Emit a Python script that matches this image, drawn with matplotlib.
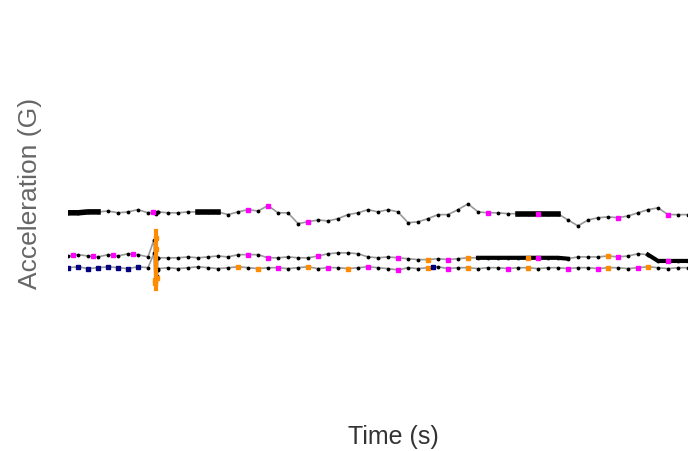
import matplotlib
matplotlib.use("Agg")
from matplotlib import pyplot as plt

# tempo in secondi, accelerazioni in G
t = [0, 1, 2, 3, 4, 5, 6, 7, 8, 8.6, 8.7, 8.8, 8.9, 9.0, 9, 10, 11, 12, 13, 14, 15, 16, 17, 18,
     19, 20, 21, 22, 23, 24, 25, 26, 27, 28, 29, 30, 31, 32, 33, 34, 35, 36, 37, 38,
     39, 40, 41, 42, 43, 44, 45, 46, 47, 48, 49, 50, 51, 52, 53, 54, 55, 56, 57, 58, 59, 60, 61, 62]

top = [1.00, 1.00, 1.02, 1.02, 1.04, 1.00, 1.02, 1.07, 1.00, 1.02, 1.00, 0.98, 1.02, 1.02, 1.02, 1.00, 1.00, 1.02, 1.02, 1.02, 1.02, 0.96, 1.02,
       1.07, 1.04, 1.16, 1.00, 1.00, 0.76, 0.80, 0.84, 0.82, 0.87, 0.96, 1.00, 1.07, 1.02, 1.07, 1.02,
       0.78, 0.80, 0.87, 0.96, 0.96, 1.07, 1.20, 1.02, 1.00, 1.00, 0.98, 0.98, 0.98, 0.98, 0.98, 0.98,
       0.84, 0.71, 0.84, 0.89, 0.91, 0.89, 0.93, 1.00, 1.07, 1.11, 0.96, 0.96, 0.96]

mid = [0.04, 0.07, 0.04, 0.02, 0.07, 0.04, 0.09, 0.07, 0.02, 0.40, -0.50, 0.45, -0.40, 0.00, 0.00, 0.00, 0.00, 0.02, 0.00, 0.02, 0.04, 0.02,
       0.07, 0.07, 0.07, 0.00, 0.00, 0.02, 0.00, 0.00, 0.04, 0.09, 0.11, 0.11, 0.09, 0.02, 0.00, 0.02,
       0.00, -0.02, -0.04, -0.04, -0.02, -0.04, -0.02, 0.00, 0.00, 0.00, 0.00, 0.00, 0.00, 0.00, 0.00,
       0.00, 0.00, -0.02, 0.02, 0.02, 0.02, 0.04, 0.02, 0.04, 0.09, 0.07, -0.07, -0.07, -0.07, -0.07]

bot = [-0.22, -0.20, -0.24, -0.22, -0.20, -0.22, -0.24, -0.20, -0.22, 0.10, -0.55, 0.20, -0.45, -0.27, -0.24, -0.22, -0.24, -0.22, -0.20,
       -0.22, -0.24, -0.22, -0.20, -0.22, -0.24, -0.22, -0.22, -0.24, -0.22, -0.20, -0.24, -0.22, -0.22,
       -0.24, -0.22, -0.20, -0.22, -0.24, -0.27, -0.22, -0.24, -0.22, -0.20, -0.24, -0.22, -0.22, -0.24,
       -0.22, -0.22, -0.24, -0.22, -0.22, -0.24, -0.22, -0.22, -0.24, -0.22, -0.22, -0.24, -0.22, -0.22,
       -0.24, -0.22, -0.20, -0.22, -0.24, -0.22, -0.22]

# tratti fitti (neri spessi)
top_dense = [(0, 3.5), (13, 15.5), (45, 49.5)]
mid_dense = [(41, 50), (58, 62)]

# punti colorati
magenta_top = [8.5, 18, 20, 24, 42, 47, 55, 60]
magenta_mid = [0.5, 2.5, 4.5, 6.5, 18, 20, 25, 33, 38, 47, 55, 60]
magenta_bot = [21, 26, 30, 33, 38, 44, 50, 53, 57]
orange_mid = [8.7, 8.8, 36, 40, 46, 54]
orange_bot = [8.7, 8.8, 8.9, 17, 19, 24, 28, 36, 40, 46, 54, 58]
navy_bot = [0, 1, 2, 3, 4, 5, 6, 7, 36.5]

f1 = plt.figure(figsize=(6.88, 4.51), dpi=100)
ax1 = f1.add_axes([68 / 688, 51 / 451, 620 / 688, 360 / 451])
ax1.set_xlim(0, 62)
ax1.set_ylim(-3.16, 4.84)
ax1.axis('off')

for ys in (top, mid, bot):
    ax1.plot(t, ys, '-', color='#999999', lw=1.2, zorder=1)
    ax1.plot(t, ys, '.', color='black', ms=3.5, zorder=2)

def seg(ys, a, b):
    xs = [tt for tt in t if a <= tt <= b]
    vs = [v for tt, v in zip(t, ys) if a <= tt <= b]
    return xs, vs

for a, b in top_dense:
    xs, vs = seg(top, a, b)
    ax1.plot(xs, vs, '-', color='black', lw=4, zorder=2)
for a, b in mid_dense:
    xs, vs = seg(mid, a, b)
    ax1.plot(xs, vs, '-', color='black', lw=3, zorder=2)

def interp(ys, tt):
    for i in range(len(t) - 1):
        if t[i] <= tt <= t[i + 1]:
            if t[i + 1] == t[i]:
                return ys[i]
            f = (tt - t[i]) / (t[i + 1] - t[i])
            return ys[i] + f * (ys[i + 1] - ys[i])
    return ys[-1]

def dots(times, ys, c):
    ax1.plot(times, [interp(ys, tt) for tt in times], 's', color=c, ms=3, zorder=3)

dots(magenta_top, top, 'magenta')
dots(magenta_mid, mid, 'magenta')
dots(magenta_bot, bot, 'magenta')
dots(orange_mid, mid, 'darkorange')
dots(orange_bot, bot, 'darkorange')
dots(navy_bot, bot, 'navy')
ax1.plot([8.8, 8.8], [-0.7, 0.6], '-', color='darkorange', lw=3, zorder=2)

f1.text(393 / 688, 1 - 437 / 451, 'Time (s)', ha='center', va='center',
        fontsize=18, color='#333333', family='Liberation Sans')
f1.text(30 / 688, 1 - 193 / 451, 'Acceleration (G)', ha='center', va='center',
        rotation=90, fontsize=19, color='#666666', family='Liberation Sans')

f1.savefig('out.png', dpi=100)
